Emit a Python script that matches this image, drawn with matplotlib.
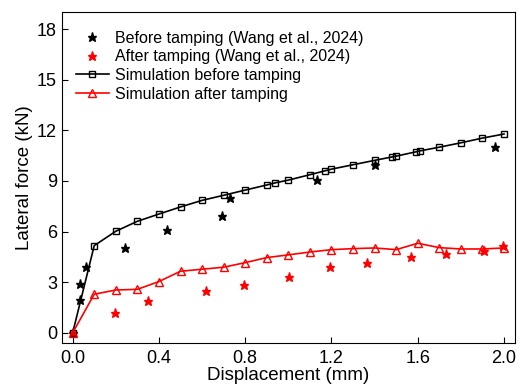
import matplotlib
matplotlib.use('Agg')
import matplotlib.pyplot as plt

plt.rcParams['font.family'] = ['Liberation Sans', 'DejaVu Sans']

# experimental data
exp_before_x = [0.0, 0.036, 0.036, 0.063, 0.244, 0.437, 0.693, 0.730, 1.131, 1.404, 1.957]
exp_before_y = [0.0, 1.95, 2.92, 3.92, 5.03, 6.09, 6.92, 7.97, 9.03, 9.96, 10.99]
exp_after_x = [0.0, 0.195, 0.349, 0.616, 0.795, 1.005, 1.194, 1.366, 1.568, 1.729, 1.909, 1.995]
exp_after_y = [0.0, 1.20, 1.87, 2.49, 2.86, 3.31, 3.92, 4.12, 4.52, 4.66, 4.87, 5.17]

# simulation curves
sim_before_x = [0.0, 0.1, 0.2, 0.3, 0.4, 0.5, 0.6, 0.7, 0.8, 0.9, 0.94, 1.0, 1.1,
                1.17, 1.2, 1.3, 1.4, 1.48, 1.5, 1.59, 1.61, 1.7, 1.8, 1.9, 2.0]
sim_before_y = [0.0, 5.17, 6.02, 6.61, 7.04, 7.46, 7.85, 8.15, 8.46, 8.76, 8.89, 9.05, 9.37,
                9.60, 9.70, 9.96, 10.22, 10.42, 10.47, 10.72, 10.78, 11.0, 11.26, 11.54, 11.78]
sim_after_x = [0.0, 0.1, 0.2, 0.3, 0.4, 0.5, 0.6, 0.7, 0.8, 0.9, 1.0,
               1.1, 1.2, 1.3, 1.4, 1.5, 1.6, 1.7, 1.8, 1.9, 2.0]
sim_after_y = [0.0, 2.29, 2.54, 2.58, 3.04, 3.65, 3.77, 3.89, 4.16, 4.46, 4.62,
               4.79, 4.93, 4.99, 5.03, 4.93, 5.31, 5.05, 4.97, 4.97, 5.03]

fig = plt.figure(figsize=(5.2, 3.92), dpi=100)
ax = fig.add_axes([0.119, 0.125, 0.871, 0.844])

ax.plot(exp_before_x, exp_before_y, '*', color='black', markersize=6.5, linestyle='none',
        label='Before tamping (Wang et al., 2024)')
ax.plot(exp_after_x, exp_after_y, '*', color='red', markersize=6.5, linestyle='none',
        label='After tamping (Wang et al., 2024)')
ax.plot(sim_before_x, sim_before_y, '-s', color='black', lw=1.2, markersize=5,
        markerfacecolor='none', markeredgewidth=1.0, label='Simulation before tamping')
ax.plot(sim_after_x, sim_after_y, '-^', color='red', lw=1.2, markersize=6,
        markerfacecolor='none', markeredgewidth=1.0, label='Simulation after tamping')

ax.set_xlim(-0.05, 2.05)
ax.set_ylim(-0.6, 19)
ax.set_xticks([0.0, 0.4, 0.8, 1.2, 1.6, 2.0])
ax.set_yticks([0, 3, 6, 9, 12, 15, 18])
ax.set_xticklabels(['0.0', '0.4', '0.8', '1.2', '1.6', '2.0'])
ax.tick_params(direction='in', labelsize=13, length=4)
ax.tick_params(axis='x', pad=5)
ax.set_xlabel('Displacement (mm)', fontsize=13.5, labelpad=0)
ax.set_ylabel('Lateral force (kN)', fontsize=13.5, labelpad=3)

ax.legend(loc='upper left', bbox_to_anchor=(0.003, 0.983), frameon=False,
          fontsize=11.5, handlelength=2.05, labelspacing=0.23,
          borderaxespad=0.4, handletextpad=0.4)

fig.savefig('out.png', dpi=100)
